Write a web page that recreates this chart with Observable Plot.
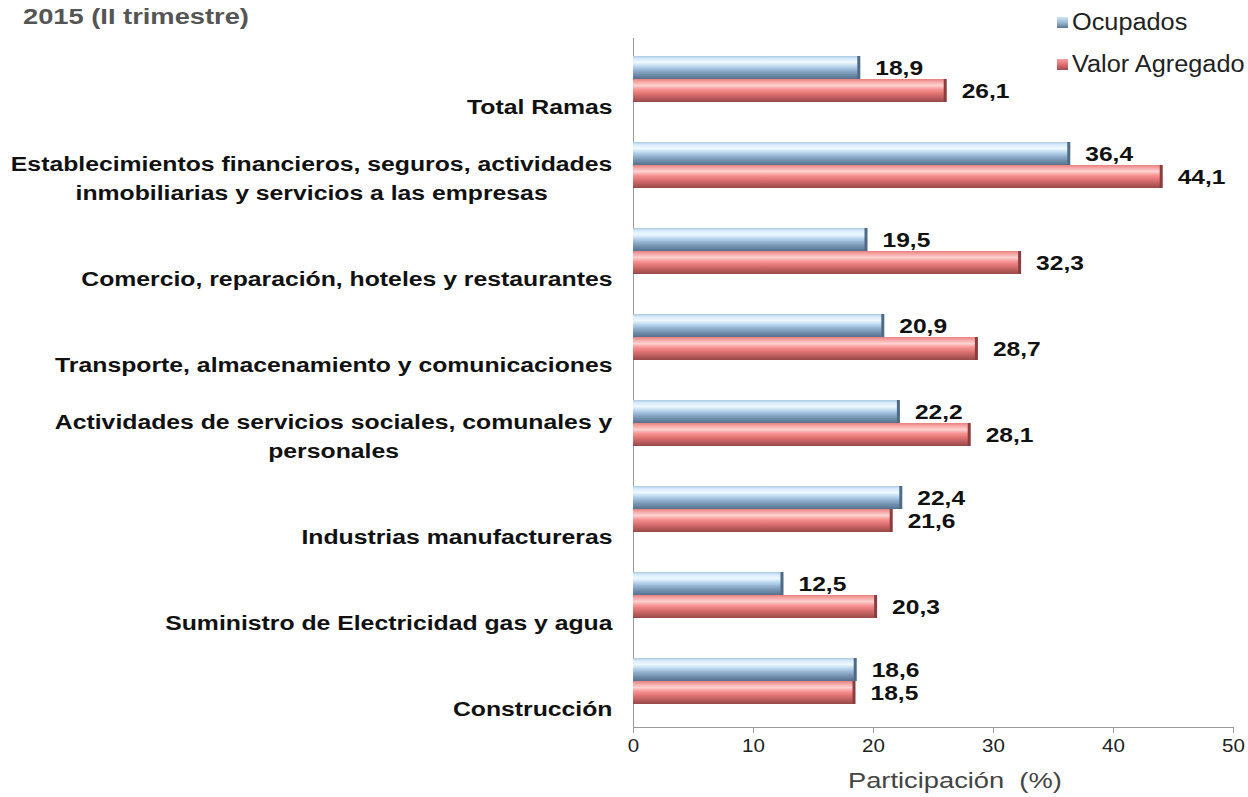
<!DOCTYPE html>
<html>
<head>
<meta charset="utf-8">
<script src="https://cdn.jsdelivr.net/npm/d3@7"></script>
<script src="https://cdn.jsdelivr.net/npm/@observablehq/plot@0.6"></script>
<style>
  html, body { margin: 0; padding: 0; background: #fff; }
  #wrap { position: relative; width: 1248px; height: 797px; font-family: "Liberation Sans", Arial, sans-serif; }
  #chart { position: absolute; left: 0; top: 0; }
  .title { position: absolute; left: 23px; top: 4px; font-size: 22px; font-weight: bold; color: #555; transform: scaleX(1.24); transform-origin: left center; white-space: nowrap; }
  .leg { position: absolute; left: 1057px; font-size: 23px; color: #222; display: flex; align-items: center; white-space: nowrap; }
  .leg span.sw { display: inline-block; width: 11px; height: 11px; margin-right: 4px; }
  .leg span.tx { display: inline-block; transform: scaleX(1.1); transform-origin: left center; }
  .xlabel { position: absolute; left: 848px; top: 768px; font-size: 22px; color: #444; white-space: pre; transform: scaleX(1.24); transform-origin: left center; }
  g[aria-label="x-axis tick"] { stroke: #9a9a9a; }
</style>
</head>
<body>
<div id="wrap">
  <div id="chart"></div>
  <div class="title">2015 (II trimestre)</div>
  <div class="leg" style="top:9px"><span class="sw" style="background:linear-gradient(#cfe7fb,#9ab8d4,#5c7690)"></span><span class="tx">Ocupados</span></div>
  <div class="leg" style="top:51px"><span class="sw" style="background:linear-gradient(#f7a0a0,#e07070,#9a4a4a)"></span><span class="tx">Valor Agregado</span></div>
  <div class="xlabel">Participación  (%)</div>
</div>
<script>
const categories = [
  "Total Ramas",
  "Establecimientos financieros, seguros, actividades\ninmobiliarias y servicios a las empresas",
  "Comercio, reparación, hoteles y restaurantes",
  "Transporte, almacenamiento y comunicaciones",
  "Actividades de servicios sociales, comunales y\npersonales",
  "Industrias manufactureras",
  "Suministro de Electricidad gas y agua",
  "Construcción"
];
const series = ["Ocupados", "Valor Agregado"];
const ocupados = [18.9, 36.4, 19.5, 20.9, 22.2, 22.4, 12.5, 18.6];
const valorAgregado = [26.1, 44.1, 32.3, 28.7, 28.1, 21.6, 20.3, 18.5];
const xTicks = [0, 10, 20, 30, 40, 50];

const rows = categories.map((c, i) => ({category: c, ocupados: ocupados[i], valor: valorAgregado[i]}));
const fmt = v => v.toFixed(1).replace(".", ",");

const chart = Plot.plot({
  width: 1248,
  height: 797,
  marginLeft: 633,
  marginRight: 15,
  marginTop: 38,
  marginBottom: 70,
  style: {fontFamily: "Liberation Sans, Arial, sans-serif", background: "transparent"},
  x: {domain: [0, 50], axis: null},
  y: {domain: categories, padding: 0, axis: null},
  marks: [
    Plot.ruleX([0], {stroke: "#9a9a9a"}),
    Plot.frame({anchor: "bottom", stroke: "#9a9a9a"}),
    Plot.axisX({ticks: xTicks, tickSize: 6, tickPadding: 5, fontSize: 19, color: "#222", label: null, tickFormat: d => d}),
    Plot.barX(rows, {x: "ocupados", y: "category", fill: "url(#gradBlue)", insetTop: 17, insetBottom: 46}),
    Plot.barX(rows, {x: "valor", y: "category", fill: "url(#gradRed)", insetTop: 40, insetBottom: 23}),
    Plot.tickX(rows, {x: "ocupados", y: "category", stroke: "#4d6a86", strokeWidth: 3, insetTop: 17, insetBottom: 46, dx: -1.5}),
    Plot.tickX(rows, {x: "valor", y: "category", stroke: "#8c3e3e", strokeWidth: 3, insetTop: 40, insetBottom: 23, dx: -1.5}),
    Plot.text(rows, {x: "ocupados", y: "category", text: d => fmt(d.ocupados), dx: 15, dy: -14.5, textAnchor: "start", fontSize: 21, fontWeight: "bold", fill: "#111"}),
    Plot.text(rows, {x: "valor", y: "category", text: d => fmt(d.valor), dx: 15, dy: 8.5, textAnchor: "start", fontSize: 21, fontWeight: "bold", fill: "#111"}),
    Plot.text(rows, {y: "category", text: "category", frameAnchor: "left", dx: -21, dy: 31, textAnchor: "end", lineAnchor: "bottom", lineHeight: 1.35, fontSize: 21, fontWeight: "bold", fill: "#111"})
  ]
});

// gradients for the bevelled bars
const svg = d3.select(chart);
const defs = svg.insert("defs", ":first-child");
function grad(id, stops) {
  const g = defs.append("linearGradient").attr("id", id).attr("x1", 0).attr("y1", 0).attr("x2", 0).attr("y2", 1);
  stops.forEach(([o, c]) => g.append("stop").attr("offset", o).attr("stop-color", c));
}
grad("gradBlue", [[0, "#a9c8e6"], [0.12, "#d8ecfc"], [0.28, "#eef8ff"], [0.45, "#bcd8f0"], [0.62, "#92b2d0"], [0.82, "#6f8dab"], [1, "#55708c"]]);
grad("gradRed", [[0, "#e88080"], [0.12, "#f7a4a4"], [0.28, "#ffd2d2"], [0.45, "#f79494"], [0.62, "#e37676"], [0.82, "#bb5c5c"], [1, "#984848"]]);

document.getElementById("chart").appendChild(chart);

// horizontal stretch of text (the reference's type is wide)
function stretch(textEl, s) {
  const tspans = textEl.querySelectorAll("tspan");
  let extra = "";
  if (tspans.length >= 2) {
    let w = 0;
    tspans.forEach(t => { w = Math.max(w, t.getComputedTextLength()); });
    textEl.setAttribute("text-anchor", "middle");
    extra = ` translate(${-w * s / 2},0)`;
  }
  const tr = textEl.getAttribute("transform");
  if (tr) {
    textEl.setAttribute("transform", tr + extra + ` scale(${s},1)`);
  } else {
    const x = +textEl.getAttribute("x") || 0, y = +textEl.getAttribute("y") || 0;
    textEl.setAttribute("transform", `translate(${x},${y})` + extra + ` scale(${s},1) translate(${-x},${-y})`);
  }
}
const textGroups = chart.querySelectorAll('g[aria-label="text"]');
textGroups.forEach((g, i) => {
  const s = i < 2 ? 1.17 : 1.18;
  g.querySelectorAll("text").forEach(t => stretch(t, s));
});
chart.querySelectorAll('g[aria-label="x-axis tick label"] text').forEach(t => stretch(t, 1.08));
</script>
</body>
</html>
